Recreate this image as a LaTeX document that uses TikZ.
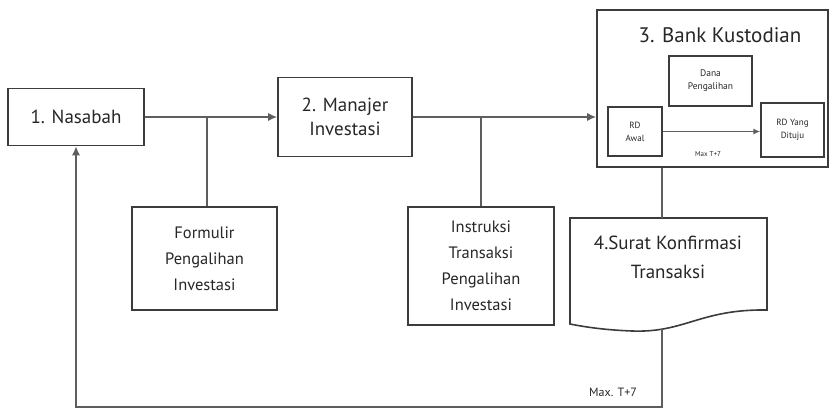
\documentclass[tikz,border=0pt]{standalone}
\usepackage{fontspec}
\setmainfont{PT Sans}
\usetikzlibrary{arrows.meta}
\definecolor{boxc}{HTML}{3C3C3C}
\definecolor{txtc}{HTML}{262626}
\definecolor{linec}{HTML}{5E5E5E}
\tikzset{
  box/.style={draw=boxc, line width=1.6pt, text=txtc, align=center, inner sep=2pt},
  conn/.style={draw=linec, line width=1.4pt},
  tip/.style={-{Latex[length=9pt,width=8pt]}},
  smalltip/.style={-{Latex[length=7pt,width=6pt]}},
}
\begin{document}
\begin{tikzpicture}[x=1pt,y=-1pt]
\useasboundingbox (0,0) rectangle (830,409);
% main boxes
\node[box, minimum width=136pt, minimum height=57pt, font=\fontsize{19}{22}\selectfont] (nas) at (76,117) {1. Nasabah};
\node[box, minimum width=134pt, minimum height=79pt, font=\fontsize{19}{24}\selectfont] (man) at (345,117) {2. Manajer\\Investasi};
\node[box, minimum width=231pt, minimum height=157pt] (bank) at (712.5,88.5) {};
\node[text=txtc, font=\fontsize{21}{24}\selectfont] (banktitle) at (720,35) {3. Bank Kustodian};
\node[box, minimum width=145pt, minimum height=103pt, font=\fontsize{16.5}{26}\selectfont] (form) at (204.5,258.5) {Formulir\\Pengalihan\\Investasi};
\node[box, minimum width=146pt, minimum height=118pt, font=\fontsize{16.5}{26}\selectfont] (instr) at (481,266) {Instruksi\\Transaksi\\Pengalihan\\Investasi};
% inner boxes of the bank
\node[box, line width=1.3pt, minimum width=83pt, minimum height=50pt, font=\fontsize{9.5}{13}\selectfont] (dana) at (710.5,81) {Dana\\Pengalihan};
\node[box, line width=1.3pt, minimum width=54pt, minimum height=49pt, font=\fontsize{9}{13}\selectfont] (awal) at (635,131.5) {RD\\Awal};
\node[box, line width=1.3pt, minimum width=63pt, minimum height=54pt, font=\fontsize{9}{13}\selectfont] (tuju) at (792.5,130) {RD Yang\\Dituju};
\node[text=txtc, font=\fontsize{7}{8}\selectfont] (maxa) at (708,154) {Max T+7};
% document shape
\node[minimum width=197pt, minimum height=110pt, inner sep=0pt] (doc) at (668.5,273) {};
\draw[boxc, line width=1.6pt] (570,218) -- (767,218) -- (767,310)
  .. controls (700,309) and (685,333) .. (632,331)
  .. controls (605,330) and (585,327) .. (570,324) -- cycle;
\node[text=txtc, align=center, font=\fontsize{19}{29}\selectfont] (doctext) at (668,257) {4.Surat Konfirmasi\\Transaksi};
\node[text=txtc, font=\fontsize{12}{14}\selectfont] (maxb) at (613,392) {Max. T+7};
% connectors
\draw[conn, tip] (nas.east) -- (man.west);
\draw[conn, tip] (man.east) -- (man.east -| bank.west);
\coordinate (b1) at (207,117);
\draw[conn] (b1) -- (b1 |- form.north);
\draw[conn] (instr.north) -- (instr.north |- man.east);
\draw[conn, smalltip] (awal.east) -- (awal.east -| tuju.west);
\coordinate (c1) at (662,407);
\coordinate (dtop) at (662,218);
\coordinate (dbot) at (662,329);
\draw[conn] (bank.south -| c1) -- (dtop);
\draw[conn, tip] (dbot) -- (c1) -- (c1 -| nas.south) -- (nas.south);
\end{tikzpicture}
\end{document}
